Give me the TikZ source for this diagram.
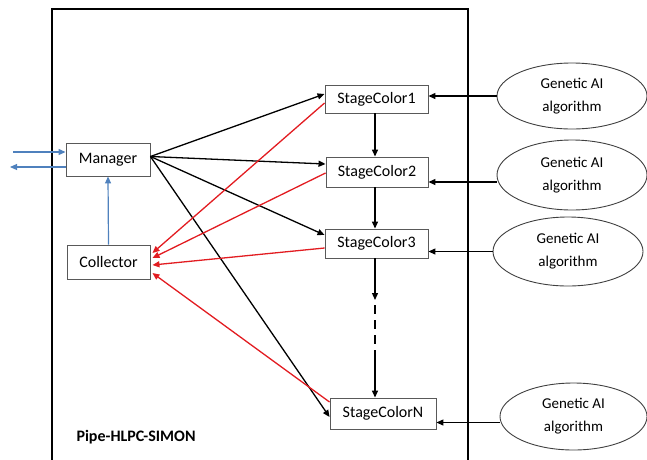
\documentclass[tikz,border=0pt]{standalone}
\usepackage{fontspec}
\setmainfont{Carlito}
\usetikzlibrary{arrows.meta,shapes.geometric}
\definecolor{arrowred}{RGB}{226,28,33}
\definecolor{linkblue}{RGB}{79,129,189}
\begin{document}
\begin{tikzpicture}[x=1pt,y=-1pt,
  box/.style={draw=black!65, line width=0.9pt, fill=white, inner sep=0pt,
    font=\fontsize{16}{19}\selectfont},
  algo/.style={ellipse, draw=black!75, line width=0.9pt, fill=white, inner sep=0pt,
    align=center, font=\fontsize{15}{23}\selectfont},
  tip/.style={-{Triangle[length=7pt,width=6pt]}},
  flow/.style={tip, line width=1.3pt, black},
  back/.style={tip, line width=1.3pt, arrowred},
  link/.style={tip, line width=1.2pt, linkblue},
]
\useasboundingbox (0,0) rectangle (647,459);

% outer frame of the pipeline, open at the bottom
\draw[line width=1.8pt] (52,470) -- (52,9) -- (468,9) -- (468,470);
\node[anchor=west, font=\bfseries\fontsize{16}{19}\selectfont] (title) at (73,437) {Pipe-HLPC-SIMON};

% controller boxes
\node[box, minimum width=84pt, minimum height=33pt] (mgr) at (108,159.5) {Manager};
\node[box, minimum width=83pt, minimum height=34pt] (col) at (108.5,262) {Collector};

% pipeline stages
\node[box, minimum width=103pt, minimum height=28pt] (s1) at (376.5,99) {StageColor1};
\node[box, minimum width=102pt, minimum height=30pt] (s2) at (377,172) {StageColor2};
\node[box, minimum width=103pt, minimum height=29pt] (s3) at (376.5,243.5) {StageColor3};
\node[box, minimum width=106pt, minimum height=31pt] (sn) at (383,413.5) {StageColorN};

% genetic algorithm engines
\node[algo, minimum width=150pt, minimum height=66pt] (g1) at (572,96) {Genetic AI\\algorithm};
\node[algo, minimum width=150pt, minimum height=70pt] (g2) at (572,175) {Genetic AI\\algorithm};
\node[algo, minimum width=150pt, minimum height=69pt] (g3) at (568,251.5) {Genetic AI\\algorithm};
\node[algo, minimum width=147pt, minimum height=67pt] (g4) at (573.5,416.5) {Genetic AI\\algorithm};

% external requests in and results out
\coordinate (inA) at (13,152);
\coordinate (outA) at (10,167);
\draw[link] (inA) -- (inA -| mgr.west);
\draw[link] (outA -| mgr.west) -- (outA);
\draw[link] (col.north) -- (mgr.south);

% manager dispatches work to every stage
\coordinate (m0) at ([yshift=3pt]mgr.east);
\draw[flow] (m0) -- ([yshift=5pt]s1.west);
\draw[flow] (m0) -- ([yshift=8pt]s2.west);
\draw[flow] (m0) -- ([yshift=8.5pt]s3.west);
\draw[flow] (m0) -- ([yshift=-3.5pt]sn.west);

% stages report back to the collector
\draw[back] ([yshift=-4pt]s1.west) -- ([yshift=9pt,xshift=2pt]col.east);
\draw[back] ([yshift=-1pt]s2.west) -- ([yshift=4pt,xshift=2pt]col.east);
\draw[back] ([yshift=-4.5pt]s3.west) -- ([yshift=-3pt,xshift=2pt]col.east);
\draw[back] ([yshift=11.5pt]sn.west) -- ([yshift=-11pt,xshift=2pt]col.east);

% chain of stages
\coordinate (d1) at (375,300);
\coordinate (d2) at (375,305);
\coordinate (d3) at (375,356);
\draw[flow] (s1.south -| d1) -- (s2.north -| d1);
\draw[flow] (s2.south -| d1) -- (s3.north -| d1);
\draw[flow] (s3.south -| d1) -- (d1);
\draw[line width=1.3pt, dash pattern=on 9pt off 6pt] (d2) -- (d3);
\draw[flow] (d3) -- (sn.north -| d1);

% each engine feeds its stage
\coordinate (e1) at (g1.west);
\coordinate (e2) at ([yshift=-7pt]g2.west);
\coordinate (e3) at (g3.west);
\coordinate (e4) at ([yshift=-6pt]g4.west);
\draw[flow] (e1) -- (s1.east |- e1);
\draw[flow] (e2) -- (s2.east |- e2);
\draw[flow] (e3) -- (s3.east |- e3);
\draw[flow] (e4) -- (sn.east |- e4);
\end{tikzpicture}
\end{document}
